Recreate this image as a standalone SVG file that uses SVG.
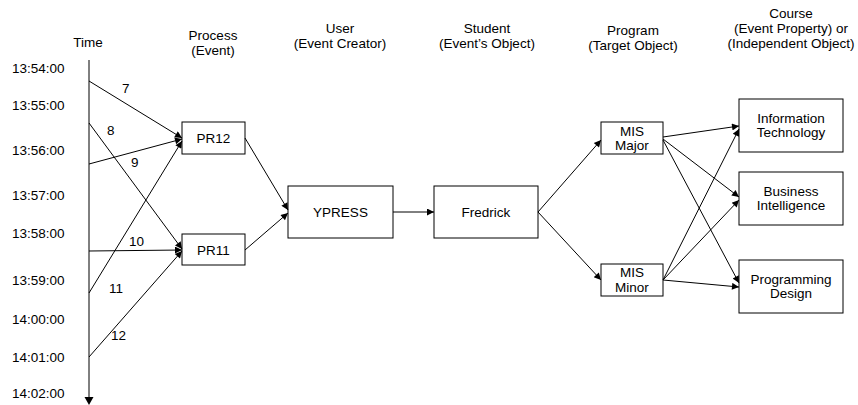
<svg xmlns="http://www.w3.org/2000/svg" width="858" height="405" viewBox="0 0 858 405">
<style>
text{font-family:"Liberation Sans",Arial,sans-serif;font-size:13.5px;fill:#000}
.c{text-anchor:middle}
.box{fill:#fff;stroke:#000;stroke-width:1}
.ln{stroke:#000;stroke-width:1;fill:none}
.ar{marker-end:url(#ah)}
</style>
<defs>
<marker id="ah" viewBox="0 0 10 10" refX="10" refY="5" markerWidth="9" markerHeight="7" markerUnits="userSpaceOnUse" orient="auto">
<path d="M0,0 L10,5 L0,10 z" fill="#000"/>
</marker>
</defs>
<g id="headers">
<text class="c" x="88" y="47">Time</text>
<text class="c" x="213" y="40">Process</text>
<text class="c" x="213" y="55">(Event)</text>
<text class="c" x="340" y="33">User</text>
<text class="c" x="340" y="48">(Event Creator)</text>
<text class="c" x="487" y="33">Student</text>
<text class="c" x="487" y="48">(Event’s Object)</text>
<text class="c" x="633" y="35">Program</text>
<text class="c" x="633" y="50">(Target Object)</text>
<text class="c" x="791" y="18">Course</text>
<text class="c" x="791" y="33">(Event Property) or</text>
<text class="c" x="791" y="48">(Independent Object)</text>
</g>
<g id="time-axis">
<line class="ln" x1="89" y1="60" x2="89" y2="398"/>
<path d="M84.5,397 L93.5,397 L89,405 z" fill="#000"/>
<text x="12" y="73">13:54:00</text>
<text x="12" y="110">13:55:00</text>
<text x="12" y="155">13:56:00</text>
<text x="12" y="200">13:57:00</text>
<text x="12" y="238">13:58:00</text>
<text x="12" y="285">13:59:00</text>
<text x="12" y="324">14:00:00</text>
<text x="12" y="362">14:01:00</text>
<text x="12" y="398">14:02:00</text>
</g>
<g id="PR12"><rect class="box" x="182" y="122" width="63" height="32"/><text class="c" x="213.5" y="143">PR12</text></g>
<g id="PR11"><rect class="box" x="182" y="234" width="63" height="31"/><text class="c" x="213.5" y="254.5">PR11</text></g>
<g id="YPRESS"><rect class="box" x="288" y="186" width="105" height="52"/><text class="c" x="340.5" y="216.5">YPRESS</text></g>
<g id="Fredrick"><rect class="box" x="434" y="186" width="104" height="52"/><text class="c" x="486" y="216.5">Fredrick</text></g>
<g id="MISMajor"><rect class="box" x="601" y="122" width="62" height="32"/><text class="c" x="632" y="136">MIS</text><text class="c" x="632" y="150">Major</text></g>
<g id="MISMinor"><rect class="box" x="601" y="264" width="62" height="32"/><text class="c" x="632" y="277">MIS</text><text class="c" x="632" y="292">Minor</text></g>
<g id="IT"><rect class="box" x="739" y="99" width="104" height="53"/><text class="c" x="791" y="123">Information</text><text class="c" x="791" y="137">Technology</text></g>
<g id="BI"><rect class="box" x="739" y="172" width="104" height="53"/><text class="c" x="791" y="196">Business</text><text class="c" x="791" y="210">Intelligence</text></g>
<g id="PD"><rect class="box" x="739" y="260" width="104" height="53"/><text class="c" x="791" y="284">Programming</text><text class="c" x="791" y="298">Design</text></g>
<g id="connectors">
<line class="ln ar" x1="89" y1="81" x2="182" y2="138"/>
<line class="ln ar" x1="89" y1="123" x2="182" y2="249"/>
<line class="ln ar" x1="89" y1="164" x2="182" y2="139"/>
<line class="ln ar" x1="89" y1="251" x2="182" y2="250"/>
<line class="ln ar" x1="89" y1="293" x2="182" y2="141"/>
<line class="ln ar" x1="89" y1="357" x2="182" y2="251"/>
<line class="ln ar" x1="245" y1="138" x2="288" y2="210"/>
<line class="ln ar" x1="245" y1="250" x2="288" y2="213"/>
<line class="ln ar" x1="393" y1="212" x2="434" y2="212"/>
<line class="ln ar" x1="538" y1="212" x2="601" y2="140"/>
<line class="ln ar" x1="538" y1="212" x2="601" y2="280"/>
<line class="ln ar" x1="663" y1="137" x2="739" y2="126"/>
<line class="ln ar" x1="663" y1="139" x2="739" y2="197"/>
<line class="ln ar" x1="663" y1="140" x2="739" y2="283"/>
<line class="ln ar" x1="663" y1="280" x2="739" y2="129"/>
<line class="ln ar" x1="663" y1="280" x2="739" y2="200"/>
<line class="ln ar" x1="663" y1="280" x2="739" y2="287"/>
<text x="122" y="93">7</text>
<text x="107" y="135">8</text>
<text x="131" y="167">9</text>
<text x="129" y="246">10</text>
<text x="109" y="293">11</text>
<text x="111" y="340">12</text>
</g>
</svg>
